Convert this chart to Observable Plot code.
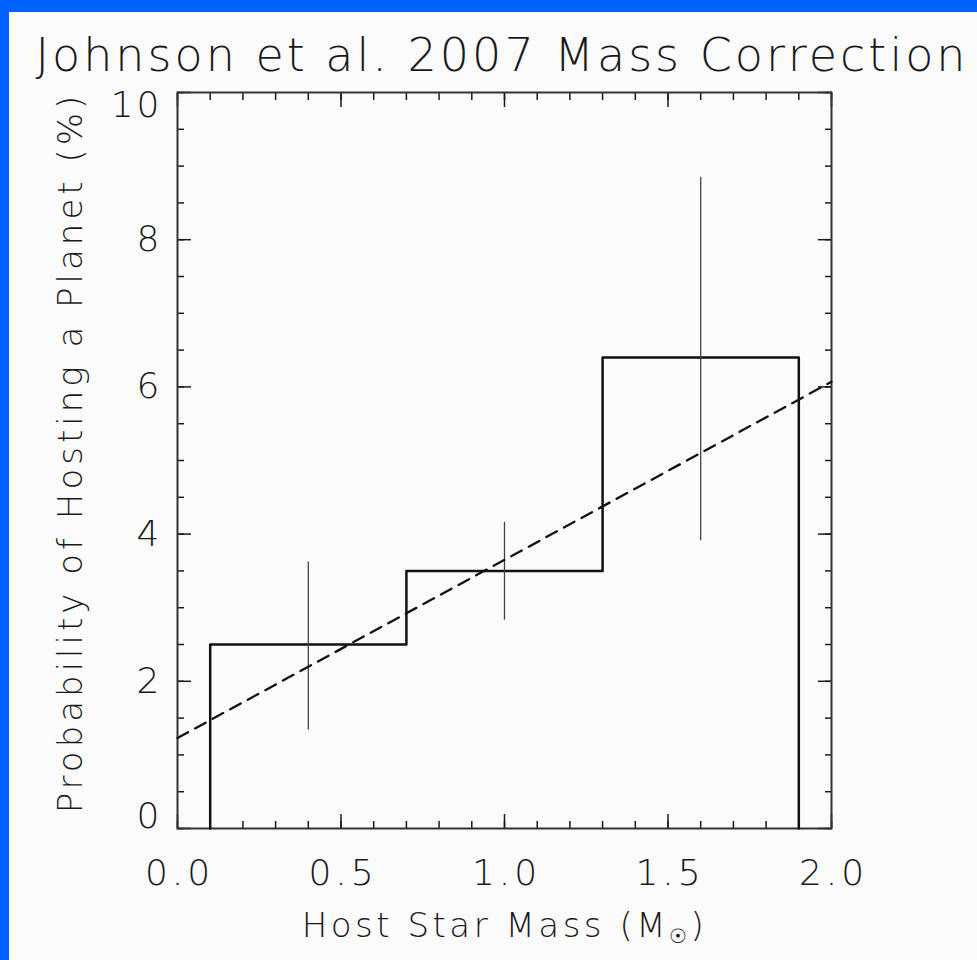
<!DOCTYPE html>
<div id="plot"></div>
<script src="https://cdn.jsdelivr.net/npm/d3@7"></script>
<script src="https://cdn.jsdelivr.net/npm/@observablehq/plot@0.6"></script>
<script>

const title = 'Johnson et al. 2007 Mass Correction';
const x_label = 'Host Star Mass (M☉)';
const y_label = 'Probability of Hosting a Planet (%)';

// histogram bins (edges) and planet fraction per bin, in %
const bin_edges = [0.1, 0.7, 1.3, 1.9];
const bin_values = [2.5, 3.5, 6.4];

// error bars at bin centres
const err_mass = [0.4, 1.0, 1.6];
const err_low = [1.34, 2.83, 3.91];
const err_high = [3.62, 4.16, 8.85];

// linear fit (dashed)
const fit_mass = [0.0, 2.0];
const fit_prob = [1.23, 6.07];

const x_major = [0, 0.5, 1.0, 1.5, 2.0];
const x_minor = d3.range(0, 2.001, 0.1).map(d => +d.toFixed(1));
const y_major = [0, 2, 4, 6, 8, 10];
const y_minor = d3.range(0, 10.01, 0.5);

// outline of the step histogram
let outline = [{mass: bin_edges[0], prob: 0}];
for (let i = 0; i < bin_values.length; i++) {
	outline.push({mass: bin_edges[i], prob: bin_values[i]});
	outline.push({mass: bin_edges[i + 1], prob: bin_values[i]});
}
outline.push({mass: bin_edges[bin_edges.length - 1], prob: 0});

let errors = err_mass.map((m, i) => ({mass: m, low: err_low[i], high: err_high[i]}));
let fit = fit_mass.map((m, i) => ({mass: m, prob: fit_prob[i]}));

const ink = '#1a1a1a';
const blank = () => '';
const int = d3.format('d');

const plot = Plot.plot({
	width: 968,
	height: 948,
	marginLeft: 168,
	marginRight: 146,
	marginTop: 80,
	marginBottom: 132,
	style: {background: '#fbfbfb', fontFamily: '"DejaVu Sans", sans-serif', color: ink},
	x: {domain: [0, 2], label: null},
	y: {domain: [0, 10], label: null},
	marks: [
		// inward ticks, all four sides
		Plot.axisX(x_major, {anchor: 'bottom', tickSize: -14, tickFormat: blank, strokeWidth: 1.5, label: null}),
		Plot.axisX(x_minor, {anchor: 'bottom', tickSize: -7, tickFormat: blank, strokeWidth: 1.5, label: null}),
		Plot.axisX(x_major, {anchor: 'top', tickSize: -14, tickFormat: blank, strokeWidth: 1.5, label: null}),
		Plot.axisX(x_minor, {anchor: 'top', tickSize: -7, tickFormat: blank, strokeWidth: 1.5, label: null}),
		Plot.axisY(y_major, {anchor: 'left', tickSize: -14, tickFormat: blank, strokeWidth: 1.5, label: null}),
		Plot.axisY(y_minor, {anchor: 'left', tickSize: -7, tickFormat: blank, strokeWidth: 1.5, label: null}),
		Plot.axisY(y_major, {anchor: 'right', tickSize: -14, tickFormat: blank, strokeWidth: 1.5, label: null}),
		Plot.axisY(y_minor, {anchor: 'right', tickSize: -7, tickFormat: blank, strokeWidth: 1.5, label: null}),
		// tick labels
		Plot.axisX(x_major, {anchor: 'bottom', tickSize: 0, tickPadding: 31, tickFormat: d3.format('.1f'), fontSize: 36, fontWeight: 200, label: null}),
		Plot.axisY([2, 4, 6, 8], {anchor: 'left', tickSize: 0, tickPadding: 15, tickFormat: int, fontSize: 36, fontWeight: 200, label: null}),
		Plot.axisY([10], {anchor: 'left', tickSize: 0, tickPadding: 15, tickFormat: int, dy: 13, fontSize: 36, fontWeight: 200, label: null}),
		Plot.axisY([0], {anchor: 'left', tickSize: 0, tickPadding: 15, tickFormat: int, dy: -12, fontSize: 36, fontWeight: 200, label: null}),
		Plot.frame({stroke: '#333', strokeWidth: 2}),
		Plot.line(outline, {x: 'mass', y: 'prob', stroke: '#111', strokeWidth: 2.5}),
		Plot.ruleX(errors, {x: 'mass', y1: 'low', y2: 'high', stroke: '#444', strokeWidth: 1.3}),
		Plot.line(fit, {x: 'mass', y: 'prob', stroke: '#111', strokeWidth: 2.3, strokeDasharray: '12,8'}),
		// titles
		Plot.text([title], {frameAnchor: 'top-left', textAnchor: 'start', lineAnchor: 'bottom', dx: -142, dy: -22,
		                    fontSize: 46, fontWeight: 200, fill: ink}),
		Plot.text([x_label], {frameAnchor: 'bottom', lineAnchor: 'bottom', dy: 108, fontSize: 34, fontWeight: 200, fill: ink}),
		Plot.text([y_label], {frameAnchor: 'left', textAnchor: 'middle', rotate: -90, dx: -106, dy: -8, fontSize: 34, fontWeight: 200, fill: ink}),
	],
});

document.querySelector('#plot').append(plot);

// wide letter spacing of the original plotting font
for (let node of document.querySelectorAll('text')) {
	let t = node.textContent;
	if (t == title) node.setAttribute('letter-spacing', '3');
	else if (t == x_label) node.setAttribute('letter-spacing', '3.5');
	else if (t == y_label) node.setAttribute('letter-spacing', '4');
	if (t.includes('☉')) {
		node.innerHTML = node.innerHTML.replace('☉)', '<tspan font-size="20" dy="6">☉</tspan><tspan dy="-6">)</tspan>');
	}
}
for (let node of document.querySelectorAll('[aria-label="x-axis tick label"] text')) {
	node.setAttribute('letter-spacing', '4');
	node.setAttribute('dx', '2');
}
for (let node of document.querySelectorAll('[aria-label="y-axis tick label"] text')) {
	node.setAttribute('letter-spacing', '3');
}

</script>
<style>

html, body {
	margin: 0;
	background: #0062ff;
}

#plot {
	padding: 12px 0 0 9px;
}

#plot > svg {
	display: block;
}

</style>
